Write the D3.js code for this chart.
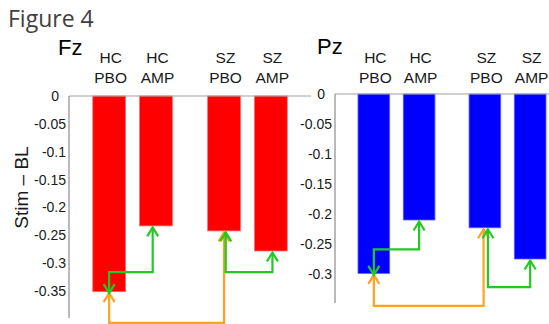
<!DOCTYPE html>
<html>
<head>
<meta charset="utf-8">
<script src="https://cdn.jsdelivr.net/npm/d3@7"></script>
<style>
  body { margin: 0; background: #ffffff; }
  text { font-family: "Liberation Sans", Arial, sans-serif; }
</style>
</head>
<body>
<div id="chart"></div>
<script>
// groups and drug conditions, bar order: HC PBO, HC AMP, SZ PBO, SZ AMP
const groups = ["HC", "SZ"];
const drugs = ["PBO", "AMP"];

// Stim - BL values
const fzValues = [-0.351, -0.233, -0.242, -0.278];
const pzValues = [-0.299, -0.210, -0.223, -0.275];

// tick labels
const fzTicks = [0, -0.05, -0.1, -0.15, -0.2, -0.25, -0.3, -0.35];
const pzTicks = [0, -0.05, -0.1, -0.15, -0.2, -0.25, -0.3];

// comparisons between bars (indices into the value arrays)
const comparisons = [[0, 2], [0, 1], [2, 3]];
const comparisonKinds = ["drug-matched", "within-group", "within-group"];

const W = 549, H = 324;
const svg = d3.select("#chart").append("svg")
    .attr("width", W)
    .attr("height", H);

svg.append("text")
    .attr("x", 8)
    .attr("y", 27)
    .style("font-family", "'Open Sans', sans-serif")
    .style("font-size", "23px")
    .style("fill", "#404040")
    .text("Figure 4");

const green = "#22c922";
const orange = "#ffa21f";

// layout of each panel, levels are where each bracket runs (in data units)
const panels = [
  { title: "Fz", titleX: 58, titleY: 55, left: 69, right: 311, top: 96, bottom: 319, min: -0.4,
    values: fzValues, ticks: fzTicks, fill: "#ff0000", edge: "#ff6b6b",
    levels: [-0.407, -0.316, -0.316], shifts: [[0, 0], [0, -3.3], [1.7, 1.6]], yTitle: true },
  { title: "Pz", titleX: 317, titleY: 53.5, left: 335, right: 569, top: 94, bottom: 304, min: -0.35,
    values: pzValues, ticks: pzTicks, fill: "#0000ff", edge: "#6060ff",
    levels: [-0.353, -0.259, -0.322], shifts: [[0, -1.3], [0, 0], [3, 0]], yTitle: false }
];

panels.forEach(drawPanel);

function drawPanel(cfg) {
  const g = svg.append("g");

  const x0 = d3.scaleBand()
      .domain(groups)
      .range([cfg.left, cfg.right])
      .paddingInner(0.307)
      .paddingOuter(0.207);
  const x1 = d3.scaleBand()
      .domain(drugs)
      .range([0, x0.bandwidth()])
      .paddingInner(0.3);
  const y = d3.scaleLinear()
      .domain([0, cfg.min])
      .range([cfg.top, cfg.bottom]);

  const rows = cfg.values.map((v, i) => ({ group: groups[Math.floor(i / 2)], drug: drugs[i % 2], v: v }));
  const xc = d => x0(d.group) + x1(d.drug) + x1.bandwidth() / 2;

  // bars
  g.selectAll("rect.bar")
    .data(rows)
    .enter()
    .append("rect")
      .attr("class", "bar")
      .attr("x", d => x0(d.group) + x1(d.drug))
      .attr("y", y(0))
      .attr("width", x1.bandwidth())
      .attr("height", d => y(d.v) - y(0))
      .style("fill", cfg.fill)
      .style("stroke", cfg.edge)
      .style("stroke-width", 0.8);

  // axis lines
  g.append("line")
    .attr("x1", cfg.left).attr("x2", cfg.right)
    .attr("y1", y(0)).attr("y2", y(0))
    .style("stroke", "#a0a0a0").style("stroke-width", 1);
  g.append("line")
    .attr("x1", cfg.left).attr("x2", cfg.left)
    .attr("y1", y(0)).attr("y2", cfg.bottom - 1)
    .style("stroke", "#8c8c8c").style("stroke-width", 1.2);

  // tick labels
  const axis = g.append("g")
    .attr("transform", `translate(${cfg.left},0)`)
    .call(d3.axisLeft(y)
      .tickValues(cfg.ticks)
      .tickSize(0)
      .tickPadding(3)
      .tickFormat(d => d === 0 ? "0" : String(+d.toFixed(2))));
  axis.select(".domain").remove();
  axis.selectAll(".tick text")
    .style("font-family", "'Liberation Sans', Arial, sans-serif")
    .style("font-size", "14px")
    .style("fill", "#1a1a1a")
    .attr("dx", d => d === 0 ? -7 : 0);

  // panel title
  g.append("text")
    .attr("x", cfg.titleX)
    .attr("y", cfg.titleY)
    .style("font-size", "22px")
    .style("fill", "#000")
    .text(cfg.title);

  // category labels
  const lab = g.selectAll("text.cat")
    .data(rows)
    .enter()
    .append("text")
      .attr("class", "cat")
      .attr("text-anchor", "middle")
      .style("font-size", "15.5px")
      .style("fill", "#1a1a1a");
  lab.append("tspan").attr("x", d => xc(d) + 1.5).attr("y", 63.3).text(d => d.group);
  lab.append("tspan").attr("x", d => xc(d) + 1.5).attr("y", 82.7).text(d => d.drug);

  if (cfg.yTitle) {
    g.append("text")
      .attr("text-anchor", "middle")
      .attr("transform", `translate(28,${(y(0) + cfg.bottom) / 2 - 20}) rotate(-90)`)
      .style("font-size", "19px")
      .style("fill", "#1a1a1a")
      .text("Stim \u2013 BL");
  }

  // comparison brackets with arrowheads at both ends
  comparisons.forEach((c, k) => {
    const col = comparisonKinds[k] === "drug-matched" ? orange : green;
    const a = rows[c[0]], b = rows[c[1]];
    const xa = xc(a) + cfg.shifts[k][0], xb = xc(b) + cfg.shifts[k][1];
    const ya = y(a.v) + 1.5, yb = y(b.v) + 1.5;
    const yl = y(cfg.levels[k]);
    g.append("path")
      .attr("d", `M${xa},${ya}V${yl}H${xb}V${yb}`)
      .style("fill", "none")
      .style("stroke", col)
      .style("stroke-width", 2.2);
    [[xa, ya], [xb, yb]].forEach(p => {
      const dir = Math.sign(yl - p[1]);
      g.append("path")
        .attr("d", `M${p[0] - 5.5},${p[1] + dir * 9}L${p[0]},${p[1]}L${p[0] + 5.5},${p[1] + dir * 9}`)
        .style("fill", "none")
        .style("stroke", col)
        .style("stroke-width", 2.2);
    });
  });
}
</script>
</body>
</html>
